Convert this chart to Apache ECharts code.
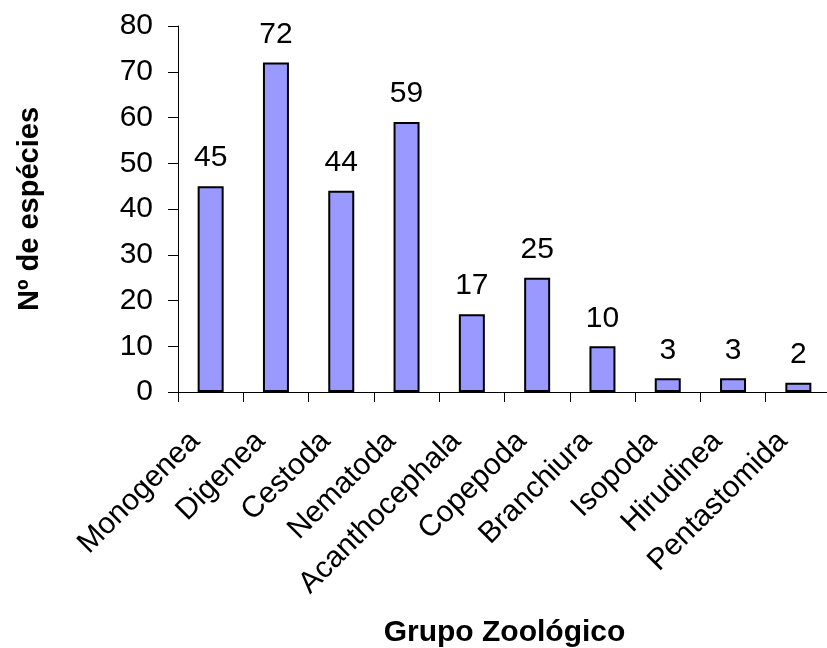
<!DOCTYPE html>
<html>
<head>
<meta charset="utf-8">
<script src="https://cdn.jsdelivr.net/npm/echarts@6/dist/echarts.min.js"></script>
<style>
    html, body { margin: 0; padding: 0; background: #fff; }
    #chart { width: 827px; height: 648px; }
</style>
</head>
<body>
<div id="chart"></div>
<script>
// 类别（grupo zoológico）
var categories = ['Monogenea', 'Digenea', 'Cestoda', 'Nematoda', 'Acanthocephala',
    'Copepoda', 'Branchiura', 'Isopoda', 'Hirudinea', 'Pentastomida'];
// 物种数量
var especies = [45, 72, 44, 59, 17, 25, 10, 3, 3, 2];
// y轴刻度
var yMin = 0;
var yMax = 80;
var yStep = 10;

var fontFamily = '"Liberation Sans", Arial, sans-serif';

var chart = echarts.init(document.getElementById('chart'));

var option = {
    animation: false,
    backgroundColor: '#ffffff',
    textStyle: {
        fontFamily: fontFamily,
        color: '#000'
    },
    grid: {
        left: 178,
        top: 26,
        width: 653,
        height: 366,
        containLabel: false,
        outerBoundsMode: 'none'
    },
    xAxis: {
        type: 'category',
        data: categories,
        boundaryGap: true,
        name: 'Grupo Zoológico',
        nameLocation: 'middle',
        nameGap: 226,
        nameMoveOverlap: false,
        nameTextStyle: {
            fontFamily: fontFamily,
            fontSize: 30,
            fontWeight: 'bold',
            color: '#000'
        },
        axisLine: { show: true, lineStyle: { color: '#000', width: 1 } },
        axisTick: { show: true, inside: false, length: 10, alignWithLabel: false, lineStyle: { color: '#000' } },
        axisLabel: {
            interval: 0,
            rotate: 45,
            margin: 29,
            padding: [0, 22, 0, 0],
            fontFamily: fontFamily,
            fontSize: 30,
            color: '#000'
        },
        splitLine: { show: false }
    },
    yAxis: {
        type: 'value',
        min: yMin,
        max: yMax,
        interval: yStep,
        name: 'Nº de espécies',
        nameLocation: 'middle',
        nameGap: 134,
        nameRotate: 90,
        nameTextStyle: {
            fontFamily: fontFamily,
            fontSize: 29,
            fontWeight: 'bold',
            color: '#000'
        },
        axisLine: { show: true, lineStyle: { color: '#000', width: 1 } },
        axisTick: { show: true, inside: false, length: 10, lineStyle: { color: '#000' } },
        axisLabel: {
            margin: 25,
            fontFamily: fontFamily,
            fontSize: 30,
            color: '#000'
        },
        splitLine: { show: false }
    },
    series: [{
        name: 'Nº de espécies',
        type: 'bar',
        data: especies,
        barWidth: 26,
        itemStyle: {
            color: '#9999FF',
            borderColor: '#000',
            borderWidth: 2
        },
        label: {
            show: true,
            position: 'top',
            distance: 13,
            fontFamily: fontFamily,
            fontSize: 30,
            color: '#000'
        }
    }]
};

chart.setOption(option);
</script>
</body>
</html>
